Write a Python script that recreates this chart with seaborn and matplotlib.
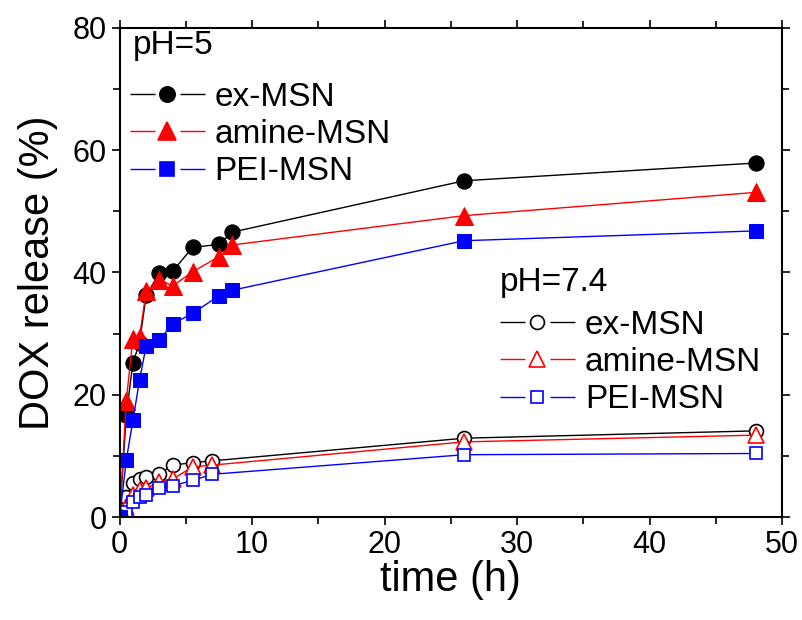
import seaborn as sns
import matplotlib.pyplot as plt
import pandas as pd
import numpy as np
from matplotlib.lines import Line2D

# release data
t_ph5 = [0, 0.5, 1, 1.5, 2, 3, 4, 5.5, 7.5, 8.5, 26, 48]
ex_ph5 = [0, 16.7, 25.2, 28.5, 36.3, 39.9, 40.2, 44.1, 44.6, 46.6, 55.0, 57.9]
amine_ph5 = [0, 19.0, 29.2, 29.5, 36.9, 38.8, 37.8, 40.1, 42.6, 44.5, 49.3, 53.1]
pei_ph5 = [0, 9.3, 15.8, 22.4, 28.0, 29.0, 31.6, 33.3, 36.2, 37.1, 45.2, 46.8]

t_ph74 = [0, 0.5, 1, 1.5, 2, 3, 4, 5.5, 7, 26, 48]
ex_ph74 = [0, 3.3, 5.5, 6.2, 6.6, 7.1, 8.5, 8.9, 9.2, 12.9, 14.1]
amine_ph74 = [0, 1.7, 3.6, 4.4, 4.7, 5.8, 6.2, 8.2, 8.5, 12.3, 13.4]
pei_ph74 = [0, 0.9, 2.5, 3.3, 3.6, 4.7, 5.1, 6.0, 7.0, 10.2, 10.4]

names = ['ex-MSN', 'amine-MSN', 'PEI-MSN']
colors = ['#000000', '#ff0000', '#0000ff']
markers = ['o', '^', 's']
msizes = [11, 13, 9.5]

sns.set_theme(style='ticks')
plt.rcParams['font.family'] = ['Liberation Sans', 'DejaVu Sans']
plt.rcParams['text.color'] = 'black'
plt.rcParams['axes.labelcolor'] = 'black'

fig, ax = plt.subplots(figsize=(8.03, 6.20), dpi=100)
fig.subplots_adjust(left=0.149, right=0.974, top=0.955, bottom=0.166)

ph5 = [ex_ph5, amine_ph5, pei_ph5]
ph74 = [ex_ph74, amine_ph74, pei_ph74]

for vals, c, m, ms in zip(ph74, colors, markers, msizes):
    df = pd.DataFrame({'t': t_ph74, 'y': vals})
    sns.lineplot(data=df, x='t', y='y', ax=ax, color=c, lw=1, marker=m,
                 markersize=ms - 1, markerfacecolor='white', markeredgecolor=c,
                 markeredgewidth=1.2, estimator=None, sort=False)

for vals, c, m, ms in zip(ph5, colors, markers, msizes):
    df = pd.DataFrame({'t': t_ph5, 'y': vals})
    sns.lineplot(data=df, x='t', y='y', ax=ax, color=c, lw=1, marker=m,
                 markersize=ms, markerfacecolor=c, markeredgecolor=c,
                 estimator=None, sort=False)

ax.set_xlim(0, 50)
ax.set_ylim(0, 80)
ax.set_xticks([0, 10, 20, 30, 40, 50])
ax.set_yticks([0, 20, 40, 60, 80])
ax.set_xticks(np.arange(5, 50, 10), minor=True)
ax.set_yticks(np.arange(10, 80, 20), minor=True)
ax.tick_params(which='both', direction='out', top=True, right=True,
               labelsize=22, width=1.2, color='black', labelcolor='black')
ax.tick_params(which='major', length=6)
ax.tick_params(which='minor', length=5)
for s in ax.spines.values():
    s.set_linewidth(1.5)
    s.set_color('black')
ax.set_xlabel('time (h)', fontsize=30, labelpad=0)
ax.set_ylabel('DOX release (%)', fontsize=30, labelpad=10)

# legend handles: line broken around the marker
def handles(filled):
    hs = []
    for c, m, ms in zip(colors, markers, msizes):
        hs.append(Line2D([], [], color=c, lw=1, ls=(0, (18, 18)), marker=m,
                         markersize=ms if filled else ms - 1,
                         markerfacecolor=c if filled else 'white',
                         markeredgecolor=c, markeredgewidth=1.2))
    return hs

leg_kw = dict(frameon=False, fontsize=24, handlelength=2.25,
              handletextpad=0.3, labelspacing=0.19, borderpad=0,
              borderaxespad=0, loc='upper left')
leg1 = ax.legend(handles(True), names, bbox_to_anchor=(0.015, 0.89), **leg_kw)
ax.add_artist(leg1)
ax.legend(handles(False), names, bbox_to_anchor=(0.574, 0.424), **leg_kw)

ax.text(0.02, 0.965, 'pH=5', transform=ax.transAxes, fontsize=24,
        ha='left', va='center')
ax.text(0.574, 0.479, 'pH=7.4', transform=ax.transAxes, fontsize=24,
        ha='left', va='center')

plt.savefig('out.png', dpi=100)
